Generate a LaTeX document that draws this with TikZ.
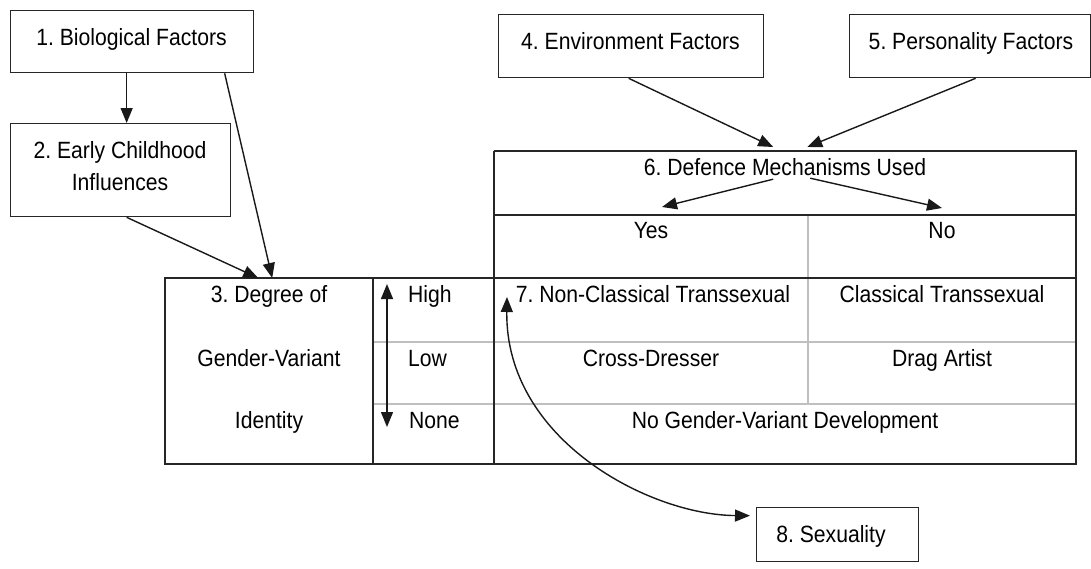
\documentclass[tikz,border=0pt]{standalone}
\usepackage{fontspec}
\setmainfont{Liberation Sans}[FakeStretch=0.9]
\usetikzlibrary{arrows.meta,calc}
\frenchspacing
\begin{document}
\begin{tikzpicture}[x=1pt,y=-1pt,
  >={Triangle[length=15pt,width=12pt]},
  box/.style={draw=black!85, line width=1.3pt, anchor=north west, inner sep=0pt},
  cell/.style={anchor=north west, inner sep=0pt},
  lbl/.style={anchor=base, inner sep=0pt, font=\fontsize{23.5pt}{32pt}\selectfont, text=black},
  conn/.style={line width=1.4pt, draw=black!90},
  blackrule/.style={line width=1.3pt, draw=black!85},
  grayrule/.style={line width=1.1pt, draw=black!25}]
\useasboundingbox (0,0) rectangle (1091,568);

% free-standing boxes
\node[box, minimum width=243pt, minimum height=62pt] (b1) at (10,10) {};
\node[box, minimum width=220pt, minimum height=93pt] (b2) at (10,123) {};
\node[box, minimum width=265pt, minimum height=63pt] (b4) at (498,14) {};
\node[box, minimum width=241pt, minimum height=63pt] (b5) at (849,14) {};
\node[box, minimum width=162pt, minimum height=54pt] (b8) at (756,507) {};

% table cells (for anchoring)
\node[cell, minimum width=208pt, minimum height=186pt] (c3) at (165,278) {};
\node[cell, minimum width=582pt, minimum height=64pt] (d6) at (494,151) {};

% table rules
\draw[grayrule] (373,342) -- (1076,342);
\draw[grayrule] (373,404) -- (1076,404);
\draw[grayrule] (808,215) -- (808,404);
\draw[blackrule] (494,151) -- (1076,151) -- (1076,464) -- (165,464) -- (165,278) -- (1076,278);
\draw[blackrule] (494,215) -- (1076,215);
\draw[blackrule] (494,151) -- (494,464);
\draw[blackrule] (373,278) -- (373,464);

% labels
\node[lbl] (l1) at (131.5,45) {1. Biological Factors};
\node[lbl] (l2a) at (120,158) {2. Early Childhood};
\node[lbl] (l2b) at (120,190) {Influences};
\node[lbl] (l4) at (630.5,49) {4. Environment Factors};
\node[lbl] (l5) at (971,49) {5. Personality Factors};
\node[lbl] (l6) at (785,175) {6. Defence Mechanisms Used};
\node[lbl] (lyes) at (651,238) {Yes};
\node[lbl] (lno) at (942,238) {No};
\node[lbl] (l3a) at (269,302) {3. Degree of};
\node[lbl] (l3b) at (269,366) {Gender-Variant};
\node[lbl] (l3c) at (269,428) {Identity};
\node[lbl, anchor=base west] (lhigh) at (408,302) {High};
\node[lbl, anchor=base west] (llow) at (408,366) {Low};
\node[lbl, anchor=base west] (lnone) at (409,428) {None};
\node[lbl] (l7) at (653,302) {7. Non-Classical Transsexual};
\node[lbl] (lct) at (942,302) {Classical Transsexual};
\node[lbl] (lcd) at (651,366) {Cross-Dresser};
\node[lbl] (lda) at (942,366) {Drag Artist};
\node[lbl] (lng) at (785,428) {No Gender-Variant Development};
\node[lbl] (l8) at (831,542) {8. Sexuality};

% connectors
\draw[conn,->] ([xshift=-5.5pt]b1.south) -- ([xshift=-5.5pt]b1.south |- b2.north);
\draw[conn,->] ([xshift=92.5pt]b1.south) -- ([xshift=3pt]c3.north);
\draw[conn,->] ([xshift=6pt]b2.south) -- ([xshift=-11pt]c3.north);
\draw[conn,->] ([xshift=-2.5pt]b4.south) -- ([xshift=-12pt,yshift=4pt]d6.north);
\draw[conn,->] ([xshift=5.5pt]b5.south) -- ([xshift=22pt,yshift=4pt]d6.north);

\coordinate (yesend) at (662,207);
\coordinate (noend) at (942,208);
\draw[conn,->] ([xshift=-12pt,yshift=4pt]d6.center) -- (yesend);
\draw[conn,->] ([xshift=25pt,yshift=5pt]d6.center) -- (noend);

\coordinate (hi) at (387,284);
\coordinate (lo) at (387,427);
\draw[conn,<->] (hi) -- (lo);

\coordinate (n7) at (507,297);
\draw[conn,<->] (n7) .. controls (505,440) and (650,515) .. ([xshift=-6pt,yshift=19pt]b8.west);
\end{tikzpicture}
\end{document}
